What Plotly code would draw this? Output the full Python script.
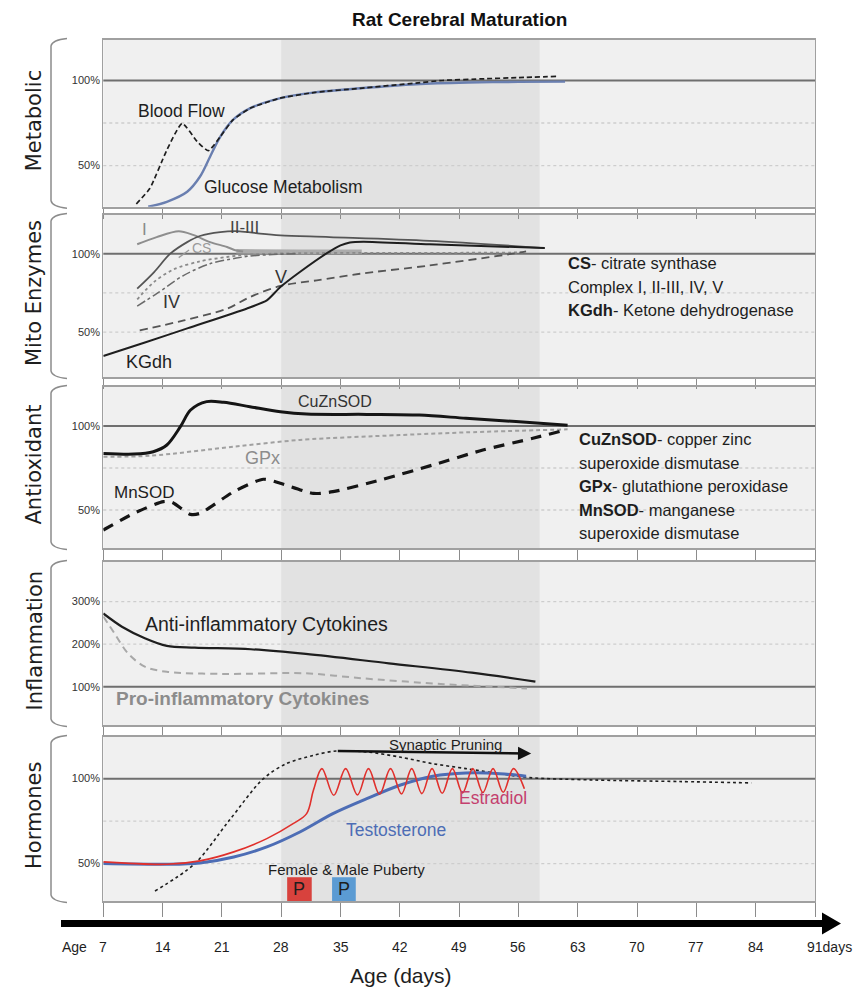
import plotly.graph_objects as go

# ---------------- data ----------------
x_ticks = [7, 14, 21, 28, 35, 42, 49, 56, 63, 70, 77, 84, 91]
x_tick_labels = ["7", "14", "21", "28", "35", "42", "49", "56", "63", "70", "77", "84", "91days"]
shade_days = [28, 58.5]

# Metabolic
blood_day = [10.9, 12.5, 14.5, 16.3, 18.1, 19.4, 20.8, 22.3, 24.3, 27.8, 32.0, 37.3, 43.9, 47.0, 52.0, 56.0, 60.5]
blood_val = [27.4, 36.6, 59.1, 74.8, 64.0, 58.7, 66.9, 76.8, 83.6, 89.5, 93.0, 95.4, 98.5, 100.0, 101.0, 101.7, 102.4]
glucose_day = [12.3, 14.5, 16.9, 18.4, 19.6, 20.8, 22.3, 24.3, 27.8, 32.0, 37.3, 43.9, 50.0, 56.0, 61.5]
glucose_val = [25.8, 28.7, 34.6, 43.4, 55.2, 66.9, 76.8, 83.6, 89.5, 93.0, 95.4, 97.8, 98.8, 99.2, 99.3]

# Mito enzymes
c1_day = [11.0, 13.3, 15.9, 17.6, 19.6, 21.6, 22.7, 23.5]
c1_val = [106.0, 110.6, 114.3, 112.0, 107.4, 104.3, 102.0, 101.4]
cs_day = [22.7, 30.0, 37.5]
cs_val = [101.5, 101.3, 101.2]
c23_day = [11.0, 13.0, 14.9, 16.9, 18.4, 20.8, 23.1, 25.5, 27.9, 33.7, 45.5, 59.1]
c23_val = [77.7, 88.3, 100.0, 107.4, 111.3, 113.8, 114.3, 112.8, 111.7, 110.6, 108.2, 103.6]
kgdh_day = [7.0, 12.0, 17.0, 23.9, 26.3, 27.9, 30.2, 33.3, 35.0, 36.1, 37.7, 45.5, 59.1]
kgdh_val = [34.7, 43.5, 52.5, 64.9, 70.2, 78.7, 88.3, 100.0, 105.3, 107.2, 107.7, 106.0, 103.6]
cv_day = [11.3, 16.5, 21.6, 24.3, 27.9, 32.2, 37.3, 45.5, 55.3, 56.9]
cv_val = [51.0, 57.4, 64.9, 72.3, 79.4, 83.0, 87.2, 92.5, 100.0, 101.5]
dot_day = [11.0, 13.0, 15.3, 18.4, 21.6, 24.0, 30.0, 40.0, 50.0, 56.9]
dot_val = [70.8, 82.0, 90.0, 95.1, 97.9, 99.4, 100.3, 100.5, 100.6, 100.8]
civ_day = [11.0, 13.3, 16.5, 19.6, 22.7, 24.0, 27.0, 30.0]
civ_val = [66.6, 74.5, 86.2, 93.6, 97.2, 98.3, 99.5, 100.0]

# Antioxidant
cuzn_day = [7.0, 10.6, 12.9, 14.5, 16.1, 17.3, 19.2, 21.2, 24.3, 27.9, 31.0, 38.1, 44.3, 49.8, 55.7, 61.8]
cuzn_val = [83.7, 83.3, 84.7, 88.7, 99.6, 109.5, 114.5, 114.1, 111.5, 108.5, 107.1, 106.9, 106.5, 104.6, 102.6, 100.5]
gpx_day = [7.0, 12.5, 22.4, 30.2, 42.0, 49.8, 61.8]
gpx_val = [81.7, 82.3, 87.7, 91.7, 94.6, 96.2, 98.0]
mnsod_day = [7.0, 10.6, 14.1, 15.1, 17.3, 18.4, 22.4, 25.9, 27.9, 31.8, 34.1, 40.0, 45.9, 51.8, 57.7, 61.5]
mnsod_val = [38.1, 48.0, 55.0, 54.6, 47.4, 48.0, 60.9, 68.3, 65.9, 59.9, 60.9, 68.3, 76.8, 85.7, 92.7, 97.6]

# Inflammation
anti_day = [7.0, 9.2, 11.9, 14.5, 17.8, 24.4, 30.9, 40.7, 50.5, 58.0]
anti_val = [272.0, 241.0, 214.0, 196.0, 192.0, 188.0, 177.0, 155.0, 133.0, 112.0]
pro_day = [7.0, 8.3, 9.9, 11.9, 14.5, 21.1, 30.9, 37.4, 47.2, 57.0]
pro_val = [265.0, 226.0, 178.6, 147.0, 135.0, 130.0, 131.5, 120.0, 106.0, 96.0]

# Hormones
testo_day = [7.0, 14.5, 18.4, 22.4, 26.3, 30.2, 34.1, 38.1, 42.0, 45.9, 49.8, 53.8, 56.9]
testo_val = [50.0, 49.6, 50.4, 53.9, 59.8, 68.6, 79.4, 88.2, 96.1, 101.4, 103.3, 102.9, 101.4]
estr_day = [7.0, 14.5, 18.4, 22.4, 26.3, 29.4, 31.0, 31.8,
            32.8, 34.2, 35.6, 37.0, 38.3, 39.6, 40.9, 42.2, 43.4, 44.6, 45.8, 47.0,
            48.2, 49.4, 50.6, 51.8, 53.0, 54.2, 55.4, 56.7]
estr_val = [51.0, 49.6, 51.6, 56.9, 64.7, 73.5, 79.4, 93.1,
            105.9, 90.2, 105.9, 90.4, 105.9, 90.8, 105.9, 91.0, 105.9, 91.2, 105.9, 91.4,
            105.9, 91.6, 105.9, 91.8, 105.9, 92.0, 105.9, 94.0]
prune_day = [13.1, 17.8, 21.8, 25.9, 28.6, 31.8, 34.5, 38.1, 42.0, 45.9, 49.8, 53.8, 57.3, 65.0, 75.0, 83.5]
prune_val = [33.9, 50.0, 75.0, 100.0, 108.8, 113.7, 116.3, 115.7, 112.7, 108.8, 105.9, 102.9, 100.6, 99.2, 98.3, 97.5]
prune_arrow_day = [34.5, 57.5]
prune_arrow_val = [116.3, 114.8]
puberty_day = [[28.7, 31.6], [34.0, 36.8]]
puberty_colors = ["#d8423d", "#5b9bd3"]

panel_titles = ["Metabolic", "Mito Enzymes", "Antioxidant", "Inflammation", "Hormones"]
panel_ticks = [[50, 100], [50, 100], [50, 100], [100, 200, 300], [50, 100]]
panel_ticktext = [["50%", "100%"], ["50%", "100%"], ["50%", "100%"],
                  ["100%", "200%", "300%"], ["50%", "100%"]]
panel_grid = [[50, 75], [50, 75], [50, 75], [200, 300], [50, 75]]

# ---------------- layout helpers ----------------
W, H = 866, 990
X0, X1 = 103.3, 815.0
panels = [(40, 206.7), (215, 377), (387, 548), (562, 725), (737, 901)]
yranges = [[25.8, 123.8], [21.3, 124.7], [27.4, 123.2], [10, 393], [28, 124.5]]
FONT = "Liberation Sans, Arial, sans-serif"


def px(x):
    return x / W


def py(y):
    return 1 - y / H


def xn(n):
    return "x" if n == 1 else f"x{n}"


def yn(n):
    return "y" if n == 1 else f"y{n}"


fig = go.Figure()
shapes = []
annotations = []
layout = {}

for i, (top, bot) in enumerate(panels):
    n = i + 1
    xa = "xaxis" if n == 1 else f"xaxis{n}"
    ya = "yaxis" if n == 1 else f"yaxis{n}"
    layout[xa] = dict(domain=[px(X0), px(X1)], range=[7, 91], anchor=yn(n),
                      tickvals=x_ticks, showticklabels=False, ticks="outside",
                      ticklen=14 if n == 5 else 10, tickcolor="#8c8c8c", tickwidth=1.2,
                      showgrid=False, zeroline=False, showline=True, mirror=True,
                      linecolor="#a0a0a0", linewidth=1.6, fixedrange=True)
    layout[ya] = dict(domain=[py(bot), py(top)], range=yranges[i], anchor=xn(n),
                      tickvals=panel_ticks[i], ticktext=panel_ticktext[i],
                      showgrid=False, ticks="",
                      tickfont=dict(size=11, color="#333", family=FONT),
                      showline=True, mirror=True, linecolor="#a0a0a0", linewidth=1.2,
                      zeroline=False, fixedrange=True, automargin=False)
    shapes.append(dict(type="rect", xref=xn(n), yref=f"{yn(n)} domain",
                       x0=shade_days[0], x1=shade_days[1], y0=0, y1=1,
                       fillcolor="#e2e2e2", line=dict(width=0), layer="below"))
    for g in panel_grid[i]:
        shapes.append(dict(type="line", xref=f"{xn(n)} domain", yref=yn(n),
                           x0=0, x1=1, y0=g, y1=g,
                           line=dict(color="#cdcdcd", width=1.3, dash="dot"), layer="below"))
    shapes.append(dict(type="line", xref=f"{xn(n)} domain", yref=yn(n),
                       x0=0, x1=1, y0=100, y1=100,
                       line=dict(color="#6f6f6f", width=2), layer="below"))
    path = (f"M {px(67)},{py(top - 1.5)} Q {px(52)},{py(top)} {px(51)},{py(top + 6)} "
            f"L {px(51)},{py(bot - 6)} Q {px(52)},{py(bot)} {px(67)},{py(bot + 1.5)}")
    shapes.append(dict(type="path", xref="paper", yref="paper", path=path,
                       line=dict(color="#8c8c8c", width=1.5)))
    annotations.append(dict(xref="paper", yref="paper", x=px(34), y=py((top + bot) / 2 - 3),
                            xanchor="center", yanchor="middle",
                            text=panel_titles[i], showarrow=False, textangle=-90,
                            font=dict(family="DejaVu Sans, sans-serif", size=21, color="#1e1e1e")))


def add(xs, ys, n, color, width, dash="solid", smoothing=0.9, opacity=1.0):
    fig.add_trace(go.Scatter(x=xs, y=ys, mode="lines", xaxis=xn(n), yaxis=yn(n),
                             line=dict(color=color, width=width, dash=dash, shape="spline",
                                       smoothing=smoothing),
                             opacity=opacity, showlegend=False, hoverinfo="skip"))


def label(n, x, y, text, size, color, xanchor="center", bold=False):
    annotations.append(dict(xref=xn(n), yref=yn(n), x=x, y=y,
                            text=f"<b>{text}</b>" if bold else text, showarrow=False,
                            xanchor=xanchor, yanchor="middle",
                            font=dict(family=FONT, size=size, color=color)))


def ptext(x, y, text, size, color="#1e1e1e", xanchor="left"):
    annotations.append(dict(xref="paper", yref="paper", x=px(x), y=py(y), text=text,
                            showarrow=False, xanchor=xanchor, yanchor="middle",
                            font=dict(family=FONT, size=size, color=color)))


# Panel 1: Metabolic
add(glucose_day, glucose_val, 1, "#6a7fb0", 2.4, smoothing=0.9)
add(blood_day, blood_val, 1, "#1e1e1e", 1.7, dash="5px,3px", smoothing=0.5)
label(1, 16.2, 82.2, "Blood Flow", 17.5, "#1e1e1e")
label(1, 18.6, 37.2, "Glucose Metabolism", 17.5, "#1e1e1e", xanchor="left")

# Panel 2: Mito enzymes
add(cs_day, cs_val, 2, "#ababab", 4.5)
add(c1_day, c1_val, 2, "#8e8e8e", 2.0)
add(c23_day, c23_val, 2, "#555555", 1.8)
add(dot_day, dot_val, 2, "#8a8a8a", 1.8, dash="dot")
add(civ_day, civ_val, 2, "#6a6a6a", 1.5, dash="dashdot")
add(cv_day, cv_val, 2, "#555555", 1.8, dash="8px,5px")
add(kgdh_day, kgdh_val, 2, "#1e1e1e", 2.0, smoothing=0.6)
label(2, 11.9, 115.4, "I", 17, "#8a8a8a")
label(2, 23.7, 117.0, "II-III", 17, "#444")
label(2, 18.6, 103.6, "CS", 14, "#9a9a9a")
annotations.append(dict(xref="x2", yref="y2", x=15.9, y=97.5, ax=17.3, ay=103.0,
                        axref="x2", ayref="y2", text="", showarrow=True, arrowhead=0,
                        arrowwidth=1.3, arrowcolor="#9a9a9a"))
label(2, 15.1, 68.9, "IV", 18, "#333")
label(2, 28.0, 85.1, "V", 18, "#333")
label(2, 12.4, 30.9, "KGdh", 18, "#1e1e1e")
ptext(566, 263, "<b>CS</b>- citrate synthase", 16.5)
ptext(566, 287, "Complex I, II-III, IV, V", 16.5)
ptext(566, 310, "<b>KGdh</b>- Ketone dehydrogenase", 16.5)

# Panel 3: Antioxidant
add(gpx_day, gpx_val, 3, "#a0a0a0", 2.0, dash="4px,3px")
add(mnsod_day, mnsod_val, 3, "#151515", 3.2, dash="11px,8px", smoothing=0.7)
add(cuzn_day, cuzn_val, 3, "#151515", 3.0)
label(3, 34.4, 114.3, "CuZnSOD", 16, "#333")
label(3, 25.8, 81.2, "GPx", 18, "#8c8c8c")
label(3, 11.8, 60.4, "MnSOD", 17, "#1e1e1e")
ptext(577, 439, "<b>CuZnSOD</b>- copper zinc", 16.5)
ptext(577, 463, "superoxide dismutase", 16.5)
ptext(577, 486, "<b>GPx</b>- glutathione peroxidase", 16.5)
ptext(577, 510, "<b>MnSOD</b>- manganese", 16.5)
ptext(577, 533, "superoxide dismutase", 16.5)

# Panel 4: Inflammation
add(pro_day, pro_val, 4, "#a8a8a8", 2.0, dash="7px,5px")
add(anti_day, anti_val, 4, "#1e1e1e", 2.2)
label(4, 26.3, 247, "Anti-inflammatory Cytokines", 19.5, "#1e1e1e")
label(4, 23.4, 72, "Pro-inflammatory Cytokines", 19, "#8c8c8c", bold=True)

# Panel 5: Hormones
add(prune_day, prune_val, 5, "#1e1e1e", 1.6, dash="dot")
add(testo_day, testo_val, 5, "#4d6db5", 3.0)
add(estr_day, estr_val, 5, "#e0302c", 1.6, smoothing=1.0)
annotations.append(dict(xref="x5", yref="y5", x=prune_arrow_day[1], y=prune_arrow_val[1],
                        ax=prune_arrow_day[0], ay=prune_arrow_val[0], axref="x5", ayref="y5",
                        text="", showarrow=True, arrowhead=2, arrowsize=1.1, arrowwidth=2.4,
                        arrowcolor="#111", standoff=0, startstandoff=0))
ptext(445, 744, "Synaptic Pruning", 15, "#1e1e1e", xanchor="center")
label(5, 53.0, 88.5, "Estradiol", 17.5, "#c4406e")
label(5, 41.5, 69.8, "Testosterone", 17.5, "#4d6db5")
ptext(346, 869, "Female &amp; Male Puberty", 15, "#1e1e1e", xanchor="center")
for (d0, d1), col in zip(puberty_day, puberty_colors):
    shapes.append(dict(type="rect", xref="x5", yref="y5 domain", x0=d0, x1=d1, y0=0, y1=0.145,
                       fillcolor=col, line=dict(width=0)))
    annotations.append(dict(xref="x5", yref="y5 domain", x=(d0 + d1) / 2, y=0.072, text="P",
                            xanchor="center", yanchor="middle",
                            showarrow=False, font=dict(family=FONT, size=18, color="#1e1e1e")))

# Bottom time arrow
arrow = (f"M {px(61)},{py(920)} L {px(822)},{py(920)} L {px(822)},{py(912.5)} "
         f"L {px(841)},{py(923.5)} L {px(822)},{py(934.5)} L {px(822)},{py(927)} "
         f"L {px(61)},{py(927)} Z")
shapes.append(dict(type="path", xref="paper", yref="paper", path=arrow,
                   fillcolor="#000", line=dict(width=0)))

# Tick labels under the arrow
for d, t in zip(x_ticks, x_tick_labels):
    last = t.endswith("days")
    annotations.append(dict(xref="x5", yref="paper", x=d, y=py(946.5), text=t,
                            showarrow=False, xanchor="left" if last else "center",
                            xshift=-10 if last else 0, yanchor="middle",
                            font=dict(family=FONT, size=14, color="#1e1e1e")))
ptext(74.5, 946.5, "Age", 14, xanchor="center")
ptext(401, 975, "Age (days)", 21, xanchor="center")

# Title
ptext(460, 19, "<b>Rat Cerebral Maturation</b>", 19, "#111", xanchor="center")

fig.update_layout(width=W, height=H, margin=dict(l=0, r=0, t=0, b=0, pad=0),
                  paper_bgcolor="white", plot_bgcolor="#f0f0f0",
                  shapes=shapes, annotations=annotations, showlegend=False, **layout)

fig.write_html("out.html", config={"displayModeBar": False},
               post_script="document.body.style.margin='0';document.body.style.padding='0';")
